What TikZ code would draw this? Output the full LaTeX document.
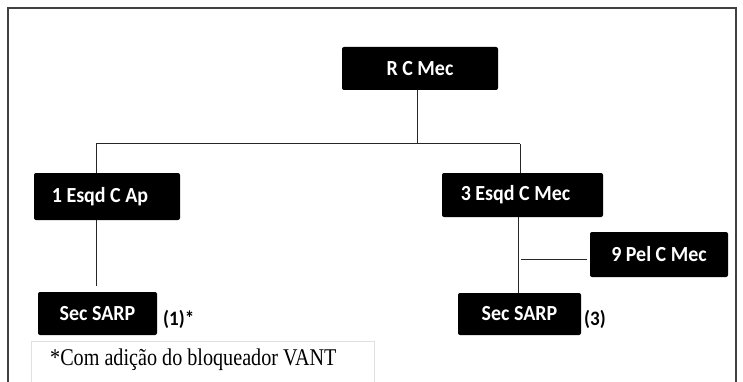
\documentclass[tikz,border=0pt]{standalone}
\usepackage{fontspec}
\setmainfont{Liberation Serif}
\newfontfamily\notafont[FakeStretch=0.84]{Liberation Serif}
\newfontfamily\boxfont[FakeStretch=0.93]{Carlito}
\usetikzlibrary{positioning}

\begin{document}
\begin{tikzpicture}[x=1pt,y=-1pt,
    unidade/.style={fill=black, text=white, inner sep=0pt, rounded corners=2pt,
      font=\boxfont\bfseries\fontsize{21.5}{25}\selectfont},
    marca/.style={anchor=west, inner sep=0pt,
      font=\boxfont\bfseries\fontsize{20.5}{24}\selectfont},
    liga/.style={draw=black!85, line width=1pt}]
      \useasboundingbox (0,0) rectangle (743,382);

      % moldura
      \draw[black!75, line width=1.6pt] (8,382) |- (736,8) -- (736,382);
      \draw[black!12, line width=0.8pt] (31,382) |- (374,341) -- (374,382);
      \node[anchor=base west, inner sep=0pt, font=\notafont\fontsize{24}{28}\selectfont]
        (nota) at (50,365) {*Com adição do bloqueador VANT};

      % unidades
      \node[unidade, minimum width=156, minimum height=43] (rc) at (420,68.5) {R C Mec};
      \node[unidade, minimum width=146, minimum height=47] (esq1) at (107,196.5) {1 Esqd C Ap\kern14pt};
      \node[unidade, minimum width=161, minimum height=44] (esq3) at (522.5,195) {3 Esqd C Mec\kern14pt};
      \node[unidade, minimum width=138, minimum height=45] (pel9) at (659,254.5) {9 Pel C Mec};
      \node[unidade, minimum width=119, minimum height=43] (sec1) at (97.5,313.5) {Sec SARP};
      \node[unidade, minimum width=123, minimum height=42] (sec3) at (519.5,314) {Sec SARP};
      \node[marca] (n1) at (163,319) {(1)*};
      \node[marca] (n3) at (584,319) {(3)};

      % ligacoes
      \coordinate (barra) at (417,144);
      \coordinate (barraE) at (96,144);
      \coordinate (barraD) at (520,144);
      \coordinate (ramo) at (518,259);
      \draw[liga] (rc.south -| barra) -- (barra);
      \draw[liga] (barraE) -- (barraD);
      \draw[liga] (barraE) -- (esq1.north -| barraE);
      \draw[liga] (barraD) -- (esq3.north -| barraD);
      \draw[liga, shorten >=6pt] (esq1.south -| barraE) -- (sec1.north -| barraE);
      \draw[liga] (esq3.south -| ramo) -- (sec3.north -| ramo);
      \draw[liga, shorten <=3pt, shorten >=3pt] (ramo) -- (ramo -| pel9.west);
\end{tikzpicture}
\end{document}
